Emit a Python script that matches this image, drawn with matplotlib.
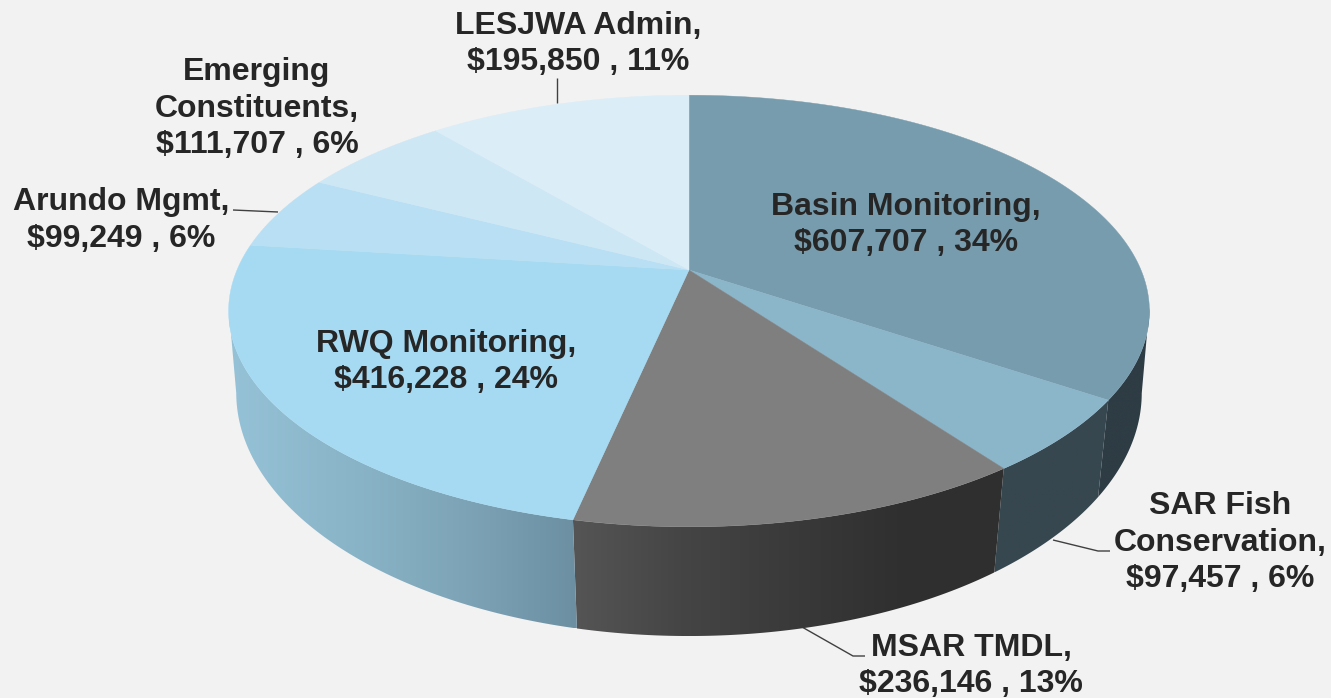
import numpy as np
import matplotlib
matplotlib.use("Agg")
import matplotlib.pyplot as plt
from matplotlib.patches import Polygon
from matplotlib.colors import LinearSegmentedColormap

names = ["Basin Monitoring", "SAR Fish\nConservation", "MSAR TMDL", "RWQ Monitoring",
         "Arundo Mgmt", "Emerging\nConstituents", "LESJWA Admin"]
values = [607707, 97457, 236146, 416228, 99249, 111707, 195850]
top_colors = ["#779CAE", "#8BB5C9", "#7F7F7F", "#A6DAF2", "#B8DFF3", "#CDE7F5", "#DBEDF7"]
side_colors = [["#2E3C44", "#2E3C44"],
               ["#37474F", "#37474F"],
               ["#555555", "#454545", "#3A3A3A", "#303030", "#2F2F2F"],
               ["#96C2D7", "#8DB8CC", "#84ADC0", "#7A9FB2", "#6C8FA2"],
               None, None, None]
label_pos = [(906, 225), (1220, 542.5), (971, 666), (446, 362), (121, 220.5), (257, 108.5), (578, 44)]
leaders = [None,
           [(1110, 551), (1098, 551), (1053, 540)],
           [(865, 656), (853, 656), (802, 627)],
           None,
           [(233, 210), (278, 212)],
           None,
           [(557, 78), (557, 103)]]

BG = "#F2F2F2"
TEXT = "#262626"
CX = 689
SIDE_MIN, SIDE_MAX = np.radians(100), np.radians(260)


def project(theta, y0, ay, bx, k):
    u, v = np.sin(theta), -np.cos(theta)
    d = 1 + k * v
    return CX + bx * u / d, y0 + ay * v / d


def top(theta):
    return project(theta, 270, 208, 452, -0.19)


def bottom(theta):
    return project(theta, 351, 236, 446, -0.172)


fig = plt.figure(figsize=(13.31, 6.98), dpi=100, facecolor=BG)
ax = fig.add_axes([0, 0, 1, 1])

vals = np.array(values, dtype=float)
edges = np.concatenate([[0], np.cumsum(vals)]) / vals.sum() * 2 * np.pi

# Sides: a horizontal gradient clipped to the wall of each slice
for i in range(len(vals)):
    if side_colors[i] is None:
        continue
    a, b = max(edges[i], SIDE_MIN), min(edges[i + 1], SIDE_MAX)
    th = np.linspace(a, b, 200)
    tx, ty = top(th)
    bx, by = bottom(th)
    outline = np.column_stack([np.r_[tx, bx[::-1]], np.r_[ty, by[::-1]]])
    patch = Polygon(outline, closed=True, facecolor="none", edgecolor="none", transform=ax.transData)
    ax.add_patch(patch)
    x0, x1 = outline[:, 0].min(), outline[:, 0].max()
    y0, y1 = outline[:, 1].min(), outline[:, 1].max()
    cmap = LinearSegmentedColormap.from_list(f"s{i}", side_colors[i])
    grad = np.linspace(0, 1, 256)[None, :]
    im = ax.imshow(grad, cmap=cmap, extent=[x0, x1, y1, y0], aspect="auto", zorder=2,
                   interpolation="bilinear")
    im.set_clip_path(patch)

# Top surface
for i in range(len(vals)):
    th = np.linspace(edges[i], edges[i + 1], 200)
    x, y = top(th)
    ax.fill(np.r_[CX, x], np.r_[270, y], facecolor=top_colors[i], edgecolor=top_colors[i], lw=0.3, zorder=3)

# Leaders
for pts in leaders:
    if pts:
        xs, ys = zip(*pts)
        ax.plot(xs, ys, color="#404040", lw=1, zorder=1, solid_capstyle="butt")

# Labels
for name, val, pos in zip(names, values, label_pos):
    pct = round(val / vals.sum() * 100)
    ax.text(pos[0], pos[1], f"{name},\n${val:,} , {pct}%", ha="center", va="center",
            fontsize=23, fontweight="bold", family="Liberation Sans", color=TEXT,
            linespacing=1.27, zorder=5)

ax.set_xlim(0, 1331)
ax.set_ylim(698, 0)
ax.axis("off")
fig.savefig("out.png", dpi=100, facecolor=BG)
